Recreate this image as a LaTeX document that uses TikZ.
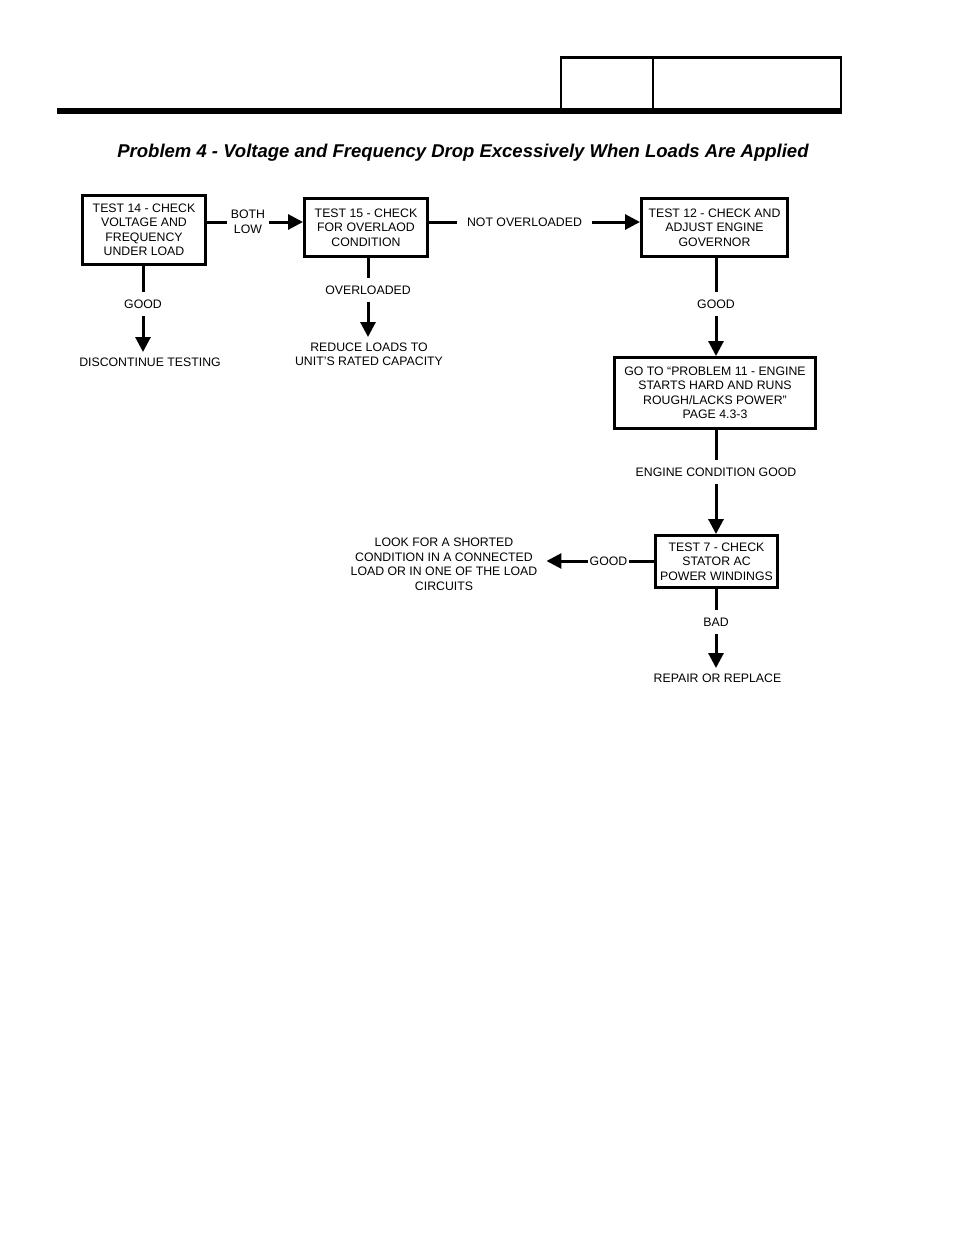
\documentclass[tikz,border=0pt]{standalone}
\usepackage{fontspec}
\setmainfont{Liberation Sans}
\usetikzlibrary{arrows.meta}
\begin{document}
\begin{tikzpicture}[x=1pt,y=-1pt,
  every node/.style={font=\fontsize{12.3}{14.5}\selectfont, align=center},
  box/.style={draw, line width=3pt, inner sep=0pt},
  lbl/.style={inner xsep=3pt, inner ysep=7.5pt, text height=8.8pt, text depth=0pt},
  endtxt/.style={inner xsep=0pt, inner ysep=5.5pt},
  conn/.style={line width=3pt},
  arr/.style={line width=3pt, -{Triangle[length=15pt,width=15pt]}}
]
\useasboundingbox (0,0) rectangle (954,1235);
% header
\fill (57,108) rectangle (842,114);
\draw[line width=1.6pt] (561,110) -- (561,57);
\draw[line width=1.6pt] (841,110) -- (841,57);
\draw[line width=3pt] (560,57) -- (842,57);
\draw[line width=2.2pt] (653,110) -- (653,57);
% title
\node[font=\fontsize{18.5}{21}\selectfont\bfseries\itshape] (title) at (463,153) {Problem 4 - Voltage and Frequency Drop Excessively When Loads Are Applied};
% boxes
\node[box, minimum width=123pt, minimum height=69pt] (t14) at (144,230) {TEST 14 - CHECK\\VOLTAGE AND\\FREQUENCY\\UNDER LOAD};
\node[box, minimum width=123pt, minimum height=58pt] (t15) at (366,227.5) {TEST 15 - CHECK\\FOR OVERLAOD\\CONDITION};
\node[box, minimum width=146pt, minimum height=58pt] (t12) at (714.5,227.5) {TEST 12 - CHECK AND\\ADJUST ENGINE\\GOVERNOR};
\node[box, minimum width=201pt, minimum height=71pt] (p11) at (715,393) {GO TO \textquotedblleft PROBLEM 11 - ENGINE\\STARTS HARD AND RUNS\\ROUGH/LACKS POWER\textquotedblright\\PAGE 4.3-3};
\node[box, minimum width=122pt, minimum height=52pt] (t7) at (716.5,561.5) {TEST 7 - CHECK\\STATOR AC\\POWER WINDINGS};
% labels
\node[inner xsep=4pt, inner ysep=0pt] (both) at (248,222) {BOTH\\LOW};
\node[lbl, inner xsep=9.5pt] (notov) at (524.5,222) {NOT OVERLOADED};
\node[lbl] (g14) at (143,304) {GOOD};
\node[lbl] (ov) at (368,290) {OVERLOADED};
\node[lbl] (g12) at (716,304) {GOOD};
\node[lbl] (ecg) at (716,472) {ENGINE CONDITION GOOD};
\node[lbl, inner xsep=2pt] (g7) at (608.5,561) {GOOD};
\node[lbl] (bad) at (716,622) {BAD};
% end texts
\node[endtxt, anchor=north] (disc) at (150,352) {DISCONTINUE TESTING};
\node[endtxt, inner ysep=0pt] (reduce) at (369,354.5) {REDUCE LOADS TO\\UNIT'S RATED CAPACITY};
\node[endtxt, anchor=north] (repair) at (717.5,668) {REPAIR OR REPLACE};
\node[inner xsep=9pt, inner ysep=0pt] (look) at (444,564.5) {LOOK FOR A SHORTED\\CONDITION IN A CONNECTED\\LOAD OR IN ONE OF THE LOAD\\CIRCUITS};
\coordinate (reducetop) at (369,337);
% connectors
\draw[conn] (t14.east |- both) -- (both.west);
\draw[arr] (both.east) -- (t15.west |- both);
\draw[conn] (t15.east |- notov) -- (notov.west);
\draw[arr] (notov.east) -- (t12.west |- notov);
\draw[conn] (g14.north |- t14.south) -- (g14.north);
\draw[arr] (g14.south) -- (g14.south |- disc.north);
\draw[conn] (ov.north |- t15.south) -- (ov.north);
\draw[arr] (ov.south) -- (ov.south |- reducetop);
\draw[conn] (g12.north |- t12.south) -- (g12.north);
\draw[arr] (g12.south) -- (g12.south |- p11.north);
\draw[conn] (ecg.north |- p11.south) -- (ecg.north);
\draw[arr] (ecg.south) -- (ecg.south |- t7.north);
\draw[conn] (t7.west |- g7) -- (g7.east);
\draw[arr] (g7.west) -- (look.east |- g7);
\draw[conn] (bad.north |- t7.south) -- (bad.north);
\draw[arr] (bad.south) -- (bad.south |- repair.north);
\end{tikzpicture}
\end{document}
